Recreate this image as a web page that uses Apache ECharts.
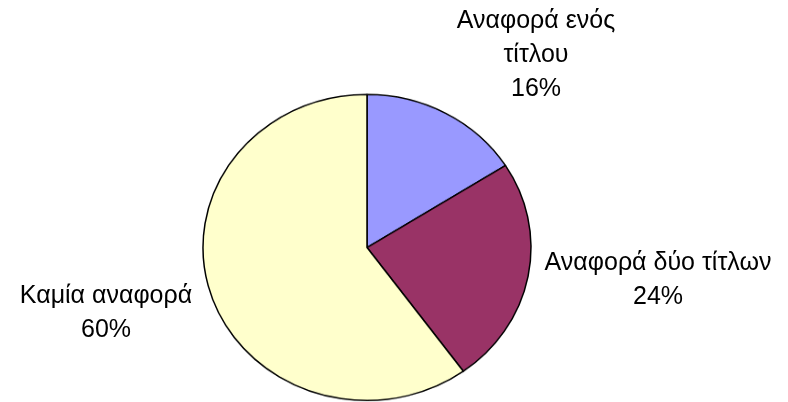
<!DOCTYPE html>
<html><head><meta charset="utf-8">
<script src="https://cdn.jsdelivr.net/npm/echarts@6/dist/echarts.min.js"></script>
<style>
html,body{margin:0;padding:0;background:#fff;overflow:hidden}
#wrap{position:relative;width:788px;height:402px}
#pie{position:absolute;left:0;top:0;width:788px;height:431px;transform:scaleY(0.9329);transform-origin:0 0}
#labels{position:absolute;left:0;top:0;width:788px;height:402px}
</style></head><body>
<div id="wrap"><div id="pie"></div><div id="labels"></div></div>
<script>
const categories = ['Αναφορά ενός\nτίτλου', 'Αναφορά δύο τίτλων', 'Καμία αναφορά'];
const values = [16, 24, 60];
const colors = ['#9999FF', '#993366', '#FFFFCC'];
const labelCenters = [[536, 55], [658, 280], [106, 313]];

const seriesData = categories.map((c, i) => ({ name: c, value: values[i] }));

const pieChart = echarts.init(document.getElementById('pie'), null, { renderer: 'canvas' });
pieChart.setOption({
  animation: false,
  color: colors,
  series: [{
    type: 'pie',
    center: [367, 265.3],
    radius: 164,
    startAngle: 90,
    clockwise: true,
    data: seriesData,
    label: { show: false },
    labelLine: { show: false },
    itemStyle: { borderColor: '#000', borderWidth: 1.5 },
    emphasis: { disabled: true }
  }]
});

const labelChart = echarts.init(document.getElementById('labels'), null, { renderer: 'canvas' });
labelChart.setOption({
  animation: false,
  series: [{
    type: 'pie',
    center: [367, 247.5],
    radius: 40,
    startAngle: 90,
    clockwise: true,
    data: seriesData,
    itemStyle: { color: 'rgba(0,0,0,0)', borderWidth: 0 },
    emphasis: { disabled: true },
    labelLine: { show: false },
    label: {
      show: true,
      position: 'outside',
      alignTo: 'none',
      overflow: 'none',
      formatter: '{b}\n{d}%',
      color: '#000',
      fontFamily: 'Liberation Sans, Arial, sans-serif',
      fontSize: 25,
      lineHeight: 34
    },
    labelLayout: function (p) {
      const c = labelCenters[p.dataIndex];
      return { x: c[0], y: c[1], align: 'center', verticalAlign: 'middle' };
    }
  }]
});
</script>
</body></html>
